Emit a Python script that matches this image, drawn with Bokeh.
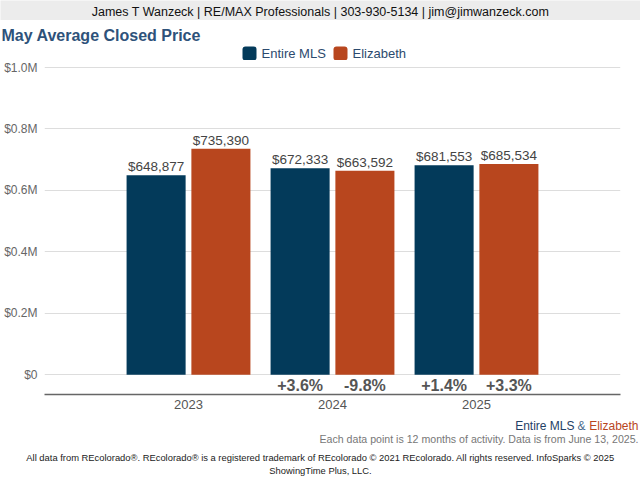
from bokeh.plotting import figure
from bokeh.layouts import column
from bokeh.models import ColumnDataSource, Range1d, FixedTicker, BoxAnnotation
from bokeh.transform import dodge
from bokeh.core.properties import value
from bokeh.embed import file_html
from bokeh.resources import INLINE

years = [2023, 2024, 2025]
year_labels = ["2023", "2024", "2025"]
entire_mls = [648877, 672333, 681553]
elizabeth = [735390, 663592, 685534]
entire_pct = ["", "+3.6%", "+1.4%"]
eliz_pct = ["", "-9.8%", "+3.3%"]
y_ticks = [0, 200000, 400000, 600000, 800000, 1000000]
y_tick_labels = ["$0", "$0.2M", "$0.4M", "$0.6M", "$0.8M", "$1.0M"]
series_names = ["Entire MLS", "Elizabeth"]
header_text = "James T Wanzeck | RE/MAX Professionals | 303-930-5134 | jim@jimwanzeck.com"
chart_title = "May Average Closed Price"
note_text = "Each data point is 12 months of activity. Data is from June 13, 2025."
footer_lines = ["All data from REcolorado®. REcolorado® is a registered trademark of REcolorado © 2021 REcolorado. All rights reserved. InfoSparks © 2025",
                "ShowingTime Plus, LLC."]

NAVY = "#033a5a"
ORANGE = "#b8461e"
FONT = "Liberation Sans"
W = 640


def text_fig(y0, y1, bg="white"):
    f = figure(width=W, height=y1 - y0, output_backend="svg", toolbar_location=None,
               x_range=Range1d(0, W), y_range=Range1d(y1, y0),
               x_axis_location=None, y_axis_location=None,
               min_border=0, min_border_left=0, min_border_right=0,
               min_border_top=0, min_border_bottom=0)
    try:
        f.title = None
    except Exception:
        pass
    f.frame_align = False
    f.xgrid.visible = False
    f.ygrid.visible = False
    f.outline_line_color = None
    f.background_fill_color = bg
    f.border_fill_color = bg
    return f


def txt(f, x, y, text, size, color, align="left", style="normal"):
    f.text(x=[x], y=[y], text=[text], text_font=value(FONT), text_font_size=size,
           text_color=color, text_align=align, text_baseline="middle",
           text_font_style=style)


# ---- header band ----
head = text_fig(0, 20, bg="#ececec")
txt(head, 320, 11.5, header_text, "12.5px", "#111111", align="center")

# ---- title + legend ----
top = text_fig(20, 60)
txt(top, 1, 35, chart_title, "16px", "#2e527a", style="bold")
top.add_layout(BoxAnnotation(left=242, right=256, top=46, bottom=60, fill_color=NAVY,
                             fill_alpha=1, line_color=None, border_radius=3))
top.add_layout(BoxAnnotation(left=333, right=347, top=46, bottom=60, fill_color=ORANGE,
                             fill_alpha=1, line_color=None, border_radius=3))
txt(top, 261, 53, series_names[0], "13px", "#2c4a6e")
txt(top, 352, 53, series_names[1], "13px", "#2c4a6e")

# ---- main chart ----
def money(v):
    return "${:,}".format(v)

src = ColumnDataSource(dict(
    x=years,
    mls=entire_mls, eliz=elizabeth,
    mls_lbl=[money(v) for v in entire_mls],
    eliz_lbl=[money(v) for v in elizabeth],
    mls_pct=entire_pct, eliz_pct=eliz_pct,
    zero=[0, 0, 0],
))

p = figure(width=W, height=360, output_backend="svg", toolbar_location=None,
           x_range=Range1d(2022, 2026), y_range=Range1d(-64100, 1006200),
           min_border_left=44, min_border_right=20, min_border_top=5,
           min_border_bottom=26)
try:
    p.title = None
except Exception:
    pass
p.frame_align = False
p.outline_line_color = None

BW = 0.41
OFF = 0.225
p.vbar(x=dodge("x", -OFF), top="mls", width=BW, source=src, fill_color=NAVY, line_color=None)
p.vbar(x=dodge("x", OFF), top="eliz", width=BW, source=src, fill_color=ORANGE, line_color=None)

for col, lbl, off in (("mls", "mls_lbl", -OFF), ("eliz", "eliz_lbl", OFF)):
    p.text(x=dodge("x", off), y=col, text=lbl, source=src, text_align="center",
           text_baseline="bottom", y_offset=-1, text_font=value(FONT),
           text_font_size="13.5px", text_color="#444444")
for lbl, off in (("mls_pct", -OFF), ("eliz_pct", OFF)):
    p.text(x=dodge("x", off), y="zero", text=lbl, source=src, text_align="center",
           text_baseline="middle", y_offset=11, text_font=value(FONT),
           text_font_size="16px", text_font_style="bold", text_color="#555555")

p.xgrid.grid_line_color = None
p.ygrid.grid_line_color = "#dddddd"
p.ygrid.ticker = FixedTicker(ticks=y_ticks)
yax = p.yaxis[0]
yax.ticker = FixedTicker(ticks=y_ticks)
yax.major_label_overrides = {t: l for t, l in zip(y_ticks, y_tick_labels)}
yax.axis_line_color = None
yax.major_tick_line_color = None
yax.minor_tick_line_color = None
yax.major_tick_out = 0
yax.major_tick_in = 0
yax.major_label_standoff = 7
yax.major_label_text_font = FONT
yax.major_label_text_font_size = "12px"
yax.major_label_text_color = "#666666"

xax = p.xaxis[0]
xax.ticker = FixedTicker(ticks=years)
xax.major_label_overrides = {y: l for y, l in zip(years, year_labels)}
xax.axis_line_color = "#666666"
xax.axis_line_width = 1.5
xax.major_tick_line_color = None
xax.minor_tick_line_color = None
xax.major_tick_out = 0
xax.major_tick_in = 0
xax.major_label_standoff = 5
xax.major_label_text_font = FONT
xax.major_label_text_font_size = "13px"
xax.major_label_text_color = "#555555"

# ---- footer ----
foot = text_fig(420, 480)
txt(foot, 638, 425, series_names[1], "12px", ORANGE, align="right")
txt(foot, 585, 425, "&", "12px", "#4a6a8e", align="right")
txt(foot, 574, 425, series_names[0], "12px", "#1f3f66", align="right")
txt(foot, 638, 438, note_text, "10.6px", "#777777", align="right")
txt(foot, 320, 457, footer_lines[0], "9.4px", "#222222", align="center")
txt(foot, 320, 470, footer_lines[1], "9.4px", "#222222", align="center")

layout = column(head, top, p, foot, spacing=0)
open("out.html", "w").write(file_html(layout, INLINE))
